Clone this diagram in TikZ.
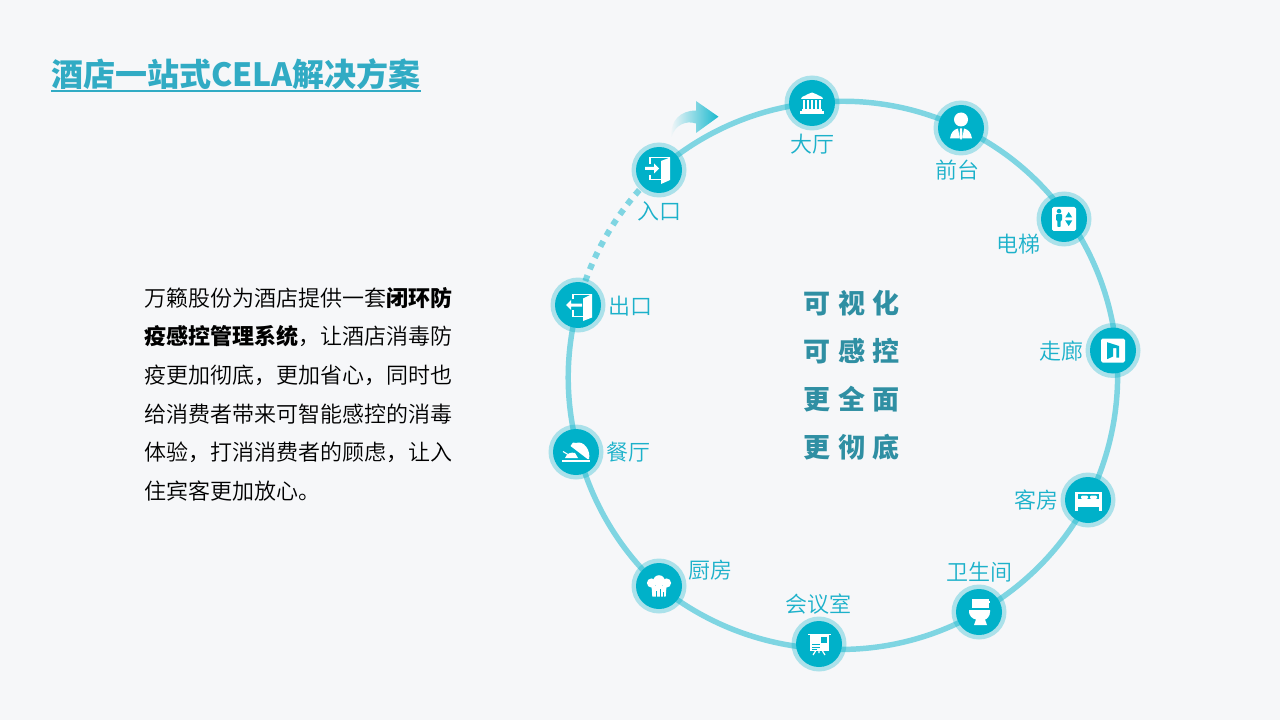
\documentclass[tikz,border=0pt]{standalone}
\usepackage{fontspec}
\setmainfont{Noto Sans CJK SC}
\IfFontExistsTF{Noto Sans CJK SC DemiLight}{\newfontfamily\lightcjk{Noto Sans CJK SC DemiLight}}{\newfontfamily\lightcjk{Noto Sans CJK SC Light}}
\usetikzlibrary{backgrounds}
\definecolor{bgc}{HTML}{F6F7F9}
\definecolor{ringc}{HTML}{7FD5E2}
\definecolor{teal1}{HTML}{00B1C9}
\definecolor{labelc}{HTML}{1CB1CA}
\definecolor{titlec}{HTML}{31ABC4}
\definecolor{centerc}{HTML}{2F8FA3}
\tikzset{
  x=0.75pt,y=-0.75pt,
  stopnode/.style={circle,fill=teal1,fill opacity=0.3,minimum size=41.25pt,inner sep=0pt,draw=none,
    path picture={\fill[teal1,fill opacity=1] (path picture bounding box.center) circle[radius=23];}},
  placelabel/.style={font=\lightcjk\fontsize{16.5pt}{20pt}\selectfont,text=labelc,inner sep=0pt},
  centerline/.style={font=\fontsize{20.25pt}{24pt}\selectfont\bfseries,text=centerc,inner sep=0pt},
  ringline/.style={line width=4.1pt,draw=ringc},
  ringdots/.style={line width=4.5pt,draw=ringc,dash pattern=on 4.6pt off 4.8pt},
  ringbend/.style={bend left=#1,looseness=0.87},
  wht/.style={fill=white,draw=none},
  tl/.style={fill=teal1,draw=none},
  whl/.style={draw=white,line width=1pt,fill=none},
  pics/bankicon/.style={code={
    \fill[wht] (-11,-4) -- (-10,-6) .. controls (-5,-8) and (-3,-10) .. (0,-10.5) .. controls (3,-10) and (5,-8) .. (10,-6) -- (11,-4) -- cycle;
    \foreach \cx in {-8,-4,0,4,8}{\fill[wht] (\cx-1.3,-2.5) rectangle (\cx+1.3,6);}
    \fill[wht] (-10,6) rectangle (10,8);
    \fill[wht] (-12,8.5) rectangle (12,11);
  }},
  pics/inicon/.style={code={
    \fill[wht] (2,-9) -- (11,-12.5) -- (11,10) -- (2,14) -- cycle;
    \draw[whl] (-9,-6) -- (-9,-12.5) -- (11,-12.5);
    \draw[whl] (-9,5) -- (-9,9.5) -- (2,9.5);
    \fill[wht] (-14,-3) -- (-5,-3) -- (-5,-6.5) -- (0,-1.5) -- (-5,3.5) -- (-5,0) -- (-14,0) -- cycle;
  }},
  pics/outicon/.style={code={
    \fill[wht] (5,-6.5) -- (14,-11) -- (14,12.5) -- (5,16) -- cycle;
    \draw[whl] (-5,-6) -- (-5,-10.5) -- (14,-10.5);
    \draw[whl] (-5,5) -- (-5,11.5) -- (5,11.5);
    \fill[wht] (-12,0) -- (-7,-5) -- (-7,-1.5) -- (4,-1.5) -- (4,1.5) -- (-7,1.5) -- (-7,5) -- cycle;
  }},
  pics/personicon/.style={code={
    \fill[wht] (0,-8.5) circle[radius=7];
    \fill[wht] (-11,10.5) .. controls (-10,4) and (-7,1.5) .. (-3,0.5) -- (-1.2,10.5) -- cycle;
    \fill[wht] (11,10.5) .. controls (10,4) and (7,1.5) .. (3,0.5) -- (1.2,10.5) -- cycle;
    \fill[wht] (-1,0.5) -- (1,0.5) -- (1.6,9) -- (0,12) -- (-1.6,9) -- cycle;
  }},
  pics/lifticon/.style={code={
    \fill[wht,rounded corners=1.2pt] (-12,-12) rectangle (12,12);
    \fill[tl] (-5,-7.8) circle[radius=2.3];
    \fill[tl,rounded corners=0.6pt] (-8,-4.8) -- (-2,-4.8) -- (-2,1.5) -- (-3.3,1.5) -- (-3.3,8) -- (-6.7,8) -- (-6.7,1.5) -- (-8,1.5) -- cycle;
    \fill[tl] (4.7,-7) -- (8.2,-1.5) -- (1.2,-1.5) -- cycle;
    \fill[tl] (4.7,7) -- (8.2,1.5) -- (1.2,1.5) -- cycle;
  }},
  pics/hallicon/.style={code={
    \fill[wht,rounded corners=1.2pt] (-12,-12) rectangle (12,12);
    \fill[tl] (-6,-8.3) -- (6,-4.5) -- (6,7) -- (3.3,7) -- (3.3,-2.3) -- (0,-2.3) -- (0,6) -- (-6,8.7) -- cycle;
  }},
  pics/bedicon/.style={code={
    \fill[wht] (-13,-8.5) rectangle (14,11);
    \fill[tl] (-10,-6.5) rectangle (11,-1);
    \fill[wht,rounded corners=0.8pt] (-7,-4.5) rectangle (0,-1);
    \fill[wht,rounded corners=0.8pt] (2,-4.5) rectangle (9,-1);
    \fill[tl] (-10,7) rectangle (11,11);
  }},
  pics/toileticon/.style={code={
    \fill[wht] (-7,-13) rectangle (9.5,-4.5);
    \fill[wht] (9.5,-11) rectangle (10.5,-9.5);
    \fill[wht] (-10,-2) -- (11,-2) -- (11,0) .. controls (11,4) and (8,7) .. (6,7.5) -- (8,13) -- (-5,13) -- (-3,7.5) .. controls (-7,7) and (-10,3) .. (-10,0) -- cycle;
  }},
  pics/boardicon/.style={code={
    \fill[wht] (-11,-10.5) rectangle (12,-9);
    \fill[wht] (-9.5,-9) rectangle (10,7);
    \fill[tl] (1.5,-7) rectangle (7.5,-1);
    \draw[teal1,line width=0.7pt] (-7,0.5) -- (0.5,0.5) (-7,3) -- (0.5,3) (-7,5.2) -- (-2,5.2);
    \draw[white,line width=0.9pt] (-3.5,7) -- (-6,11) (3.5,7) -- (6,11) (0,7) -- (0,9);
  }},
  pics/haticon/.style={code={
    \fill[wht] (-7.5,-3) circle[radius=4.6];
    \fill[wht] (0,-5) circle[radius=5.8];
    \fill[wht] (7.5,-3) circle[radius=4.6];
    \fill[wht] (-7.5,0) -- (7.5,0) -- (6.7,10.5) -- (-6.7,10.5) -- cycle;
    \draw[teal1,line width=0.6pt] (-2.5,5) -- (-2.5,10.5) (1,3) -- (1,10.5) (4,6) -- (4,10.5);
  }},
  pics/clocheicon/.style={code={
    \fill[wht] (-14,7.5) rectangle (14,10);
    \fill[wht] (-5.5,-6) -- (-3,-9.5) -- (0,-9) .. controls (8,-12) and (15,-1) .. (13,7) -- (11.5,7) -- cycle;
    \fill[wht] (-11,6) .. controls (-9,1) and (-5,0) .. (-1,1) -- (2,6) -- cycle;
    \draw[white,line width=0.8pt] (-13,-0.5) -- (-8,2.5);
  }}
}
\begin{document}
\begin{tikzpicture}
\useasboundingbox (0,0) rectangle (1280,720);

% title
\node[anchor=base west,inner sep=0pt,font=\fontsize{24pt}{28pt}\selectfont\bfseries,text=titlec] (title) at (51,87) {酒店一站式CELA解决方案};
\coordinate (ulstart) at (51,91);
\coordinate (ulend) at (421,91);
\draw[titlec,line width=1.2pt] (ulstart) -- (ulend);

% body
\node[anchor=north west,inner sep=0pt,align=left,font=\fontsize{16.5pt}{29pt}\selectfont,text=black] (body) at (144,287) {{\lightcjk 万籁股份为酒店提供一套}\textbf{闭环防}\\\textbf{疫感控管理系统}{\lightcjk ，让酒店消毒防}\\{\lightcjk 疫更加彻底，更加省心，同时也}\\{\lightcjk 给消费者带来可智能感控的消毒}\\{\lightcjk 体验，打消消费者的顾虑，让入}\\{\lightcjk 住宾客更加放心。}};

% centre
\node[centerline] (c1) at (851.5,303) {可\hspace{6pt}视\hspace{6pt}化};
\node[centerline] (c2) at (851.5,351) {可\hspace{6pt}感\hspace{6pt}控};
\node[centerline] (c3) at (851.5,399) {更\hspace{6pt}全\hspace{6pt}面};
\node[centerline] (c4) at (851.5,447) {更\hspace{6pt}彻\hspace{6pt}底};

% stops
\node[stopnode] (hall) at (812,103) {};
\node[stopnode] (front) at (961,128) {};
\node[stopnode] (lift) at (1064,219) {};
\node[stopnode] (corr) at (1113,350.5) {};
\node[stopnode] (room) at (1088,500) {};
\node[stopnode] (wc) at (979,612) {};
\node[stopnode] (meet) at (819,644) {};
\node[stopnode] (kitchen) at (659,586) {};
\node[stopnode] (rest) at (576,452) {};
\node[stopnode] (exitn) at (578,305) {};
\node[stopnode] (entry) at (659,170) {};

% ring
\begin{scope}[on background layer]
\fill[bgc] (0,0) rectangle (1280,720);
\draw[ringline] (entry.center) to[ringbend=17.8] (hall.center);
\draw[ringline] (hall.center) to[ringbend=16] (front.center);
\draw[ringline] (front.center) to[ringbend=14.8] ([xshift=2.4pt,yshift=1.7pt]lift.center);
\draw[ringline] ([xshift=2.4pt,yshift=1.7pt]lift.center) to[ringbend=15] ([xshift=2.6pt]corr.center);
\draw[ringline] ([xshift=2.6pt]corr.center) to[ringbend=16] (room.center);
\draw[ringline] (room.center) to[ringbend=16.5] (wc.center);
\draw[ringline] (wc.center) to[ringbend=17.5] ([yshift=-3.4pt]meet.center);
\draw[ringline] ([yshift=-3.4pt]meet.center) to[ringbend=18] (kitchen.center);
\draw[ringline] (kitchen.center) to[ringbend=16.5] ([xshift=1.8pt,yshift=0.5pt]rest.center);
\draw[ringline] ([xshift=1.8pt,yshift=0.5pt]rest.center) to[ringbend=15.5] (exitn.center);
\draw[ringdots] (exitn.center) to[ringbend=16.5] (entry.center);
\end{scope}

% icons
\pic at (hall) {bankicon};
\pic at (front) {personicon};
\pic at (lift) {lifticon};
\pic at (corr) {hallicon};
\pic at (room) {bedicon};
\pic at (wc) {toileticon};
\pic at (meet) {boardicon};
\pic at (kitchen) {haticon};
\pic at (rest) {clocheicon};
\pic at (exitn) {outicon};
\pic at (entry) {inicon};

% labels
\node[placelabel] (lhall) at (812,144.5) {大厅};
\node[placelabel] (lfront) at (957,170.5) {前台};
\node[placelabel] (llift) at (1018,244.5) {电梯};
\node[placelabel] (lcorr) at (1061,351) {走廊};
\node[placelabel] (lroom) at (1036,500) {客房};
\node[placelabel] (lwc) at (979,572) {卫生间};
\node[placelabel] (lmeet) at (818,604) {会议室};
\node[placelabel] (lkitchen) at (710.5,570) {厨房};
\node[placelabel] (lrest) at (628,452.5) {餐厅};
\node[placelabel] (lexit) at (630,306.5) {出口};
\node[placelabel] (lentry) at (659,211.5) {入口};

% gradient arrow
\shade[left color=bgc,middle color=ringc,right color=teal1!90!white,shading angle=90]
  (671.5,137) .. controls (670,121) and (680,110.5) .. (696,110.5) -- (696,101) -- (718.5,116.7) -- (696,133) -- (696,123.5) .. controls (686,120) and (675,125) .. cycle;
\end{tikzpicture}
\end{document}
